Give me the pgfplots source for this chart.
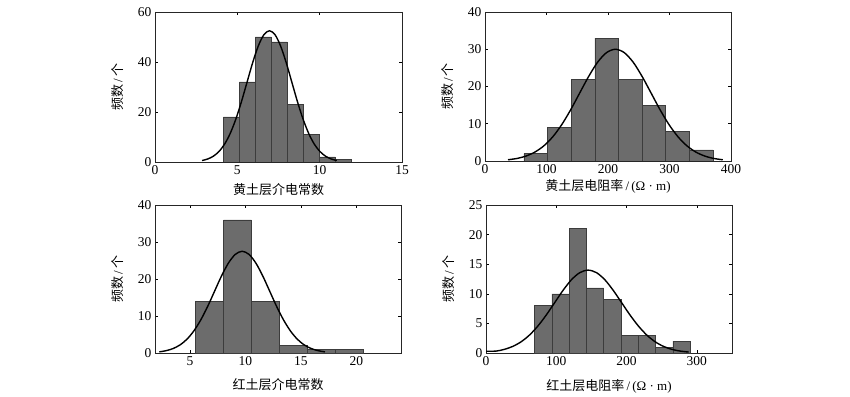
\documentclass[border=0pt]{standalone}
\usepackage{pgfplots}
\pgfplotsset{compat=1.18}
\usepackage{fontspec}
\setmainfont{Liberation Serif}
\newfontfamily\cjk{Noto Sans CJK SC}
\definecolor{barfill}{RGB}{108,108,108}
\definecolor{baredge}{RGB}{60,60,60}
\pgfplotsset{
  every axis/.append style={
    scale only axis,
    /pgf/number format/assume math mode=true,
    tick label style={font=\fontsize{13.5}{15}\selectfont},
    label style={font=\fontsize{13}{15}\selectfont},
    major tick length=3pt,
    tick style={black, line width=0.5pt},
    axis line style={line width=0.7pt, black!85},
    ylabel style={at={(axis description cs:-0.152,0.5)}, anchor=center},
    ylabel={{\cjk 频数}\,/\,{\cjk 个}},
    ymin=0,
  },
  hist/.style={ybar interval, fill=barfill, draw=baredge, line width=0.5pt},
  curve/.style={black, line width=1.4pt, smooth, mark=none},
}
\begin{document}
\begin{tikzpicture}
\path[use as bounding box] (0,0) rectangle (850pt,396pt);
% panel 1
\begin{axis}[at={(155pt,234pt)}, anchor=south west, width=247pt, height=150pt,
  xmin=0, xmax=15, ymax=60, xtick={0,5,10,15}, ytick={0,20,40,60},
  xlabel={{\cjk 黄土层介电常数}},
  xlabel style={at={(axis description cs:0.5,-0.187)}, anchor=center}]
\addplot[hist] coordinates {(4.15,18) (5.12,32) (6.09,50) (7.06,48) (8.03,23) (9.0,11) (9.97,2) (10.94,1) (11.91,0)};
\addplot[curve] coordinates {(2.858,0.58) (3.199,1.20) (3.54,2.30) (3.881,4.18) (4.222,7.10) (4.563,11.36) (4.904,17.05) (5.245,24.03) (5.586,31.84) (5.927,39.63) (6.268,46.33) (6.609,50.88) (6.95,52.5) (7.291,50.88) (7.632,46.33) (7.973,39.63) (8.314,31.84) (8.655,24.03) (8.996,17.05) (9.337,11.36) (9.678,7.10) (10.019,4.18) (10.36,2.30) (10.701,1.20) (11.042,0.58)};
\end{axis}
% panel 2
\begin{axis}[at={(485pt,235pt)}, anchor=south west, width=246pt, height=149pt,
  xmin=0, xmax=400, ymax=40, xtick={0,100,200,300,400}, ytick={0,10,20,30,40},
  xlabel={{\cjk 黄土层电阻率}\,/\,(Ω · m)},
  xlabel style={at={(axis description cs:0.5,-0.167)}, anchor=center}]
\addplot[hist] coordinates {(63.3,2) (101.7,9) (140.1,22) (178.5,33) (216.9,22) (255.3,15) (293.7,8) (332.1,3) (370.5,0)};
\addplot[curve] coordinates {(37.4,0.33) (51.95,0.68) (66.5,1.32) (81.05,2.39) (95.6,4.06) (110.15,6.49) (124.7,9.74) (139.25,13.73) (153.8,18.20) (168.35,22.64) (182.9,26.48) (197.45,29.08) (212,30) (226.55,29.08) (241.1,26.48) (255.65,22.64) (270.2,18.20) (284.75,13.73) (299.3,9.74) (313.85,6.49) (328.4,4.06) (342.95,2.39) (357.5,1.32) (372.05,0.68) (386.6,0.33)};
\end{axis}
% panel 3
\begin{axis}[at={(155pt,43pt)}, anchor=south west, width=246pt, height=148pt,
  xmin=1.84, xmax=24.03, ymax=40, xtick={5,10,15,20}, ytick={0,10,20,30,40},
  xlabel={{\cjk 红土层介电常数}},
  xlabel style={at={(axis description cs:0.5,-0.216)}, anchor=center}]
\addplot[hist] coordinates {(5.5,14) (8.02,36) (10.54,14) (13.06,2) (15.58,1) (18.1,1) (20.62,0)};
\addplot[curve] coordinates {(2.23,0.31) (2.85,0.63) (3.475,1.21) (4.10,2.19) (4.72,3.72) (5.34,5.95) (5.965,8.93) (6.59,12.59) (7.21,16.68) (7.83,20.76) (8.455,24.27) (9.08,26.65) (9.7,27.5) (10.32,26.65) (10.945,24.27) (11.57,20.76) (12.19,16.68) (12.81,12.59) (13.435,8.93) (14.06,5.95) (14.68,3.72) (15.30,2.19) (15.925,1.21) (16.55,0.63) (17.17,0.31)};
\end{axis}
% panel 4
\begin{axis}[at={(486pt,43pt)}, anchor=south west, width=246pt, height=148pt,
  xmin=0, xmax=350, ymax=25, xtick={0,100,200,300}, ytick={0,5,10,15,20,25},
  xlabel={{\cjk 红土层电阻率}\,/\,(Ω · m)},
  xlabel style={at={(axis description cs:0.5,-0.223)}, anchor=center}]
\addplot[hist] coordinates {(69,8) (93.6,10) (118.2,21) (142.8,11) (167.4,9) (192,3) (216.6,3) (241.2,1) (265.8,2) (290.4,0)};
\addplot[curve] coordinates {(0,0.3) (14.13,0.32) (26.05,0.61) (37.98,1.11) (49.9,1.89) (61.83,3.03) (73.75,4.55) (85.68,6.41) (97.6,8.49) (109.53,10.57) (121.45,12.36) (133.38,13.57) (145.3,14) (157.23,13.57) (169.15,12.36) (181.08,10.57) (193.0,8.49) (204.93,6.41) (216.85,4.55) (228.78,3.03) (240.7,1.89) (252.63,1.11) (264.55,0.61) (276.48,0.32) (288.4,0.16)};
\end{axis}
\end{tikzpicture}
\end{document}
